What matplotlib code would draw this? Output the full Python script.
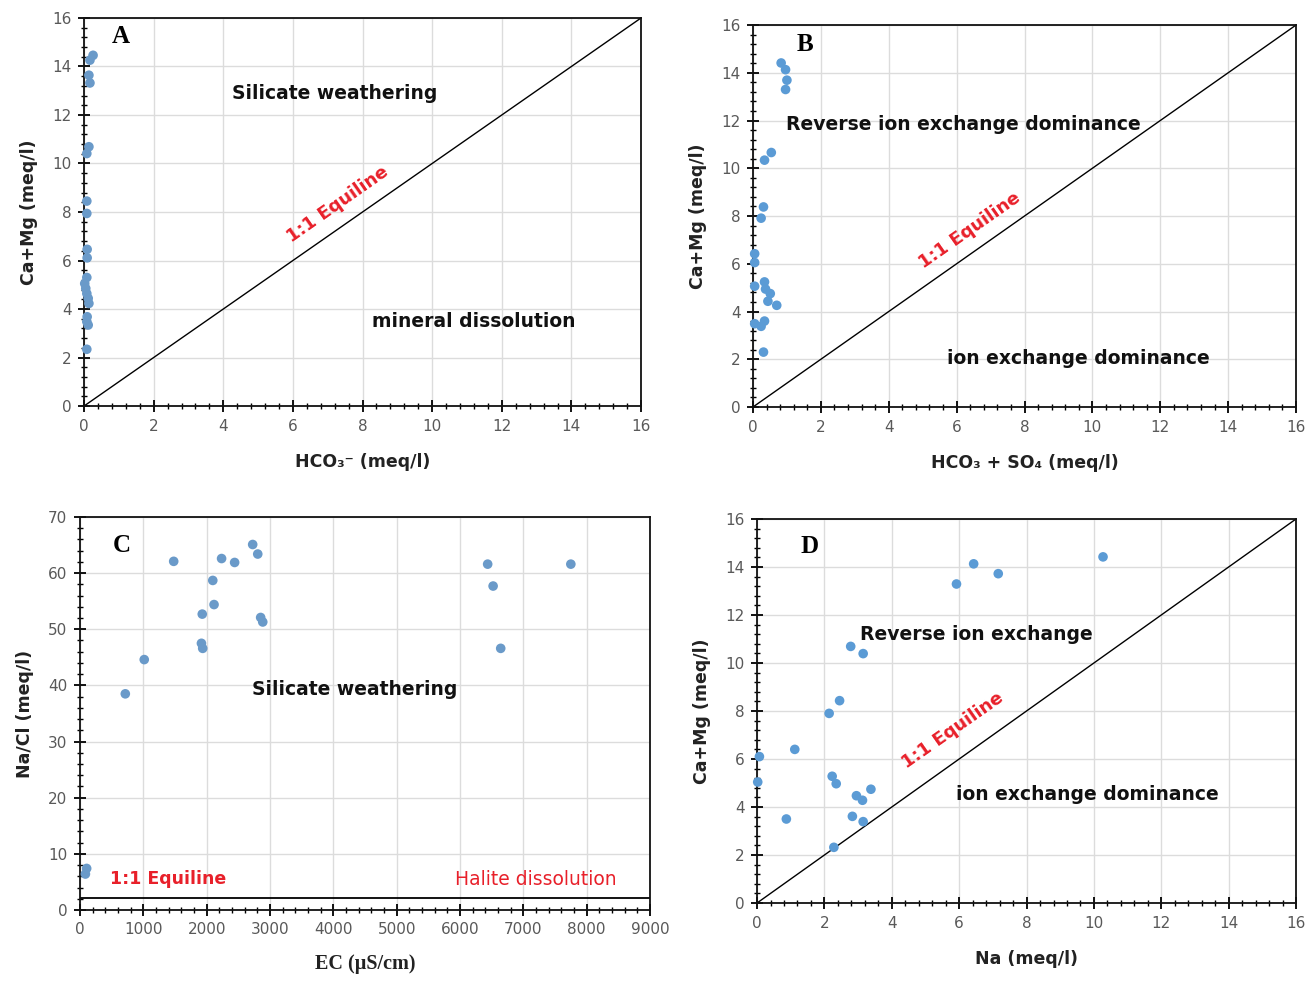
import matplotlib.pyplot as plt
from matplotlib.ticker import MultipleLocator, AutoMinorLocator

#### DATA ####

# panel A : HCO3 vs Ca+Mg
a_hco3 = [0.26, 0.17, 0.14, 0.17, 0.14, 0.08, 0.08, 0.08, 0.09, 0.09,
          0.08, 0.02, 0.05, 0.08, 0.12, 0.14, 0.09, 0.08, 0.12, 0.08]
a_camg = [14.46, 14.26, 13.64, 13.32, 10.69, 10.41, 8.45, 7.94, 6.46, 6.11,
          5.30, 5.05, 4.85, 4.64, 4.44, 4.23, 3.68, 3.48, 3.34, 2.34]

# panel B : HCO3 + SO4 vs Ca+Mg
b_hco3so4 = [0.83, 0.96, 1.00, 0.96, 0.54, 0.34, 0.31, 0.24, 0.05, 0.05,
             0.05, 0.34, 0.37, 0.51, 0.44, 0.70, 0.05, 0.34, 0.24, 0.31]
b_camg = [14.41, 14.13, 13.69, 13.30, 10.66, 10.34, 8.38, 7.91, 6.42, 6.05,
          5.06, 5.24, 4.94, 4.75, 4.43, 4.26, 3.49, 3.60, 3.38, 2.30]

# panel C : EC vs Na/Cl
c_ec = [1480, 2236, 2442, 2727, 2807, 2097, 2117, 1931, 2853, 2886,
        1918, 1938, 1015, 716, 6437, 6523, 6643, 7750, 106, 86]
c_nacl = [62.1, 62.6, 61.9, 65.1, 63.4, 58.7, 54.4, 52.7, 52.1, 51.3,
          47.5, 46.6, 44.6, 38.5, 61.6, 57.7, 46.6, 61.6, 7.4, 6.4]
c_equiline = 2.2

# panel D : Na vs Ca+Mg
d_na = [10.27, 6.43, 7.16, 5.92, 2.78, 3.15, 2.45, 2.14, 1.12, 0.07,
        0.02, 2.23, 2.35, 3.38, 2.95, 3.13, 0.87, 2.83, 3.15, 2.28]
d_camg = [14.42, 14.13, 13.72, 13.29, 10.69, 10.39, 8.43, 7.90, 6.40, 6.10,
          5.04, 5.28, 4.97, 4.74, 4.47, 4.28, 3.50, 3.61, 3.39, 2.32]

#### PLOT ####

fig = plt.figure(figsize=(13.15, 9.81), dpi=100)
axA = fig.add_axes([0.0639, 0.5861, 0.4236, 0.3956])
axB = fig.add_axes([0.5726, 0.5851, 0.4130, 0.3894])
axC = fig.add_axes([0.0608, 0.0724, 0.4335, 0.4006])
axD = fig.add_axes([0.5757, 0.0795, 0.4099, 0.3915])

tickgray = "#595959"
lab_font = dict(fontsize=12.5, fontweight="bold", color="#222222")
note_font = dict(fontsize=13.5, fontweight="bold", color="#111111")
red = "#e8202a"


def style(ax, xmax, ymax, xstep, ystep):
    ax.set_xlim(0, xmax)
    ax.set_ylim(0, ymax)
    ax.xaxis.set_major_locator(MultipleLocator(xstep))
    ax.yaxis.set_major_locator(MultipleLocator(ystep))
    ax.xaxis.set_minor_locator(AutoMinorLocator(5))
    ax.yaxis.set_minor_locator(AutoMinorLocator(5))
    ax.grid(True, which="major", color="#dcdcdc", linewidth=1.0)
    ax.set_axisbelow(True)
    ax.tick_params(which="major", direction="inout", length=8, width=1.3,
                   labelsize=11, labelcolor=tickgray, pad=5,
                   top=False, right=False)
    ax.tick_params(which="minor", direction="inout", length=4, width=1.0,
                   top=False, right=False)
    for sp in ax.spines.values():
        sp.set_color("#111111")
        sp.set_linewidth(1.3)


def scatter(ax, x, y, color):
    ax.scatter(x, y, s=48, color=color, edgecolors="none", zorder=3, clip_on=False)


# A
style(axA, 16, 16, 2, 2)
axA.plot([0, 16], [0, 16], color="black", linewidth=1.0)
scatter(axA, a_hco3, a_camg, "#6a9ac9")
axA.set_xlabel("HCO\u2083\u207b (meq/l)", labelpad=14, **lab_font)
axA.set_ylabel("Ca+Mg (meq/l)", labelpad=10, **lab_font)
axA.text(0.8, 14.95, "A", fontsize=18, fontweight="bold", family="Liberation Serif")
axA.text(7.2, 12.9, "Silicate weathering", ha="center", va="center", **note_font)
axA.text(11.2, 3.5, "mineral dissolution", ha="center", va="center", **note_font)
axA.text(7.3, 8.3, "1:1 Equiline", ha="center", va="center", rotation=35,
         fontsize=13, fontweight="bold", color=red)

# B
style(axB, 16, 16, 2, 2)
axB.plot([0, 16], [0, 16], color="black", linewidth=1.0)
scatter(axB, b_hco3so4, b_camg, "#5b9bd5")
axB.set_xlabel("HCO\u2083 + SO\u2084 (meq/l)", labelpad=14, **lab_font)
axB.set_ylabel("Ca+Mg (meq/l)", labelpad=10, **lab_font)
axB.text(1.3, 14.9, "B", fontsize=18, fontweight="bold", family="Liberation Serif")
axB.text(6.2, 11.85, "Reverse ion exchange dominance", ha="center", va="center", **note_font)
axB.text(9.6, 2.05, "ion exchange dominance", ha="center", va="center", **note_font)
axB.text(6.4, 7.4, "1:1 Equiline", ha="center", va="center", rotation=35,
         fontsize=13, fontweight="bold", color=red)

# C
style(axC, 9000, 70, 1000, 10)
axC.axhline(c_equiline, color="black", linewidth=1.3)
scatter(axC, c_ec, c_nacl, "#6a9ac9")
axC.set_xlabel("EC (\u00b5S/cm)", labelpad=12, fontsize=14.5, fontweight="bold",
               family="Liberation Serif", color="#222222")
axC.set_ylabel("Na/Cl (meq/l)", labelpad=10, **lab_font)
axC.text(520, 63.8, "C", fontsize=18, fontweight="bold", family="Liberation Serif")
axC.text(4330, 39.2, "Silicate weathering", ha="center", va="center", **note_font)
axC.text(1390, 5.5, "1:1 Equiline", ha="center", va="center",
         fontsize=12.5, fontweight="bold", color=red)
axC.text(7200, 5.5, "Halite dissolution", ha="center", va="center",
         fontsize=13.5, color=red)

# D
style(axD, 16, 16, 2, 2)
axD.plot([0, 16], [0, 16], color="black", linewidth=1.0)
scatter(axD, d_na, d_camg, "#5b9bd5")
axD.set_xlabel("Na (meq/l)", labelpad=14, **lab_font)
axD.set_ylabel("Ca+Mg (meq/l)", labelpad=10, **lab_font)
axD.text(1.3, 14.6, "D", fontsize=18, fontweight="bold", family="Liberation Serif")
axD.text(6.5, 11.2, "Reverse ion exchange", ha="center", va="center", **note_font)
axD.text(9.8, 4.5, "ion exchange dominance", ha="center", va="center", **note_font)
axD.text(5.8, 7.2, "1:1 Equiline", ha="center", va="center", rotation=35,
         fontsize=13, fontweight="bold", color=red)

plt.savefig("out.png", dpi=100)
